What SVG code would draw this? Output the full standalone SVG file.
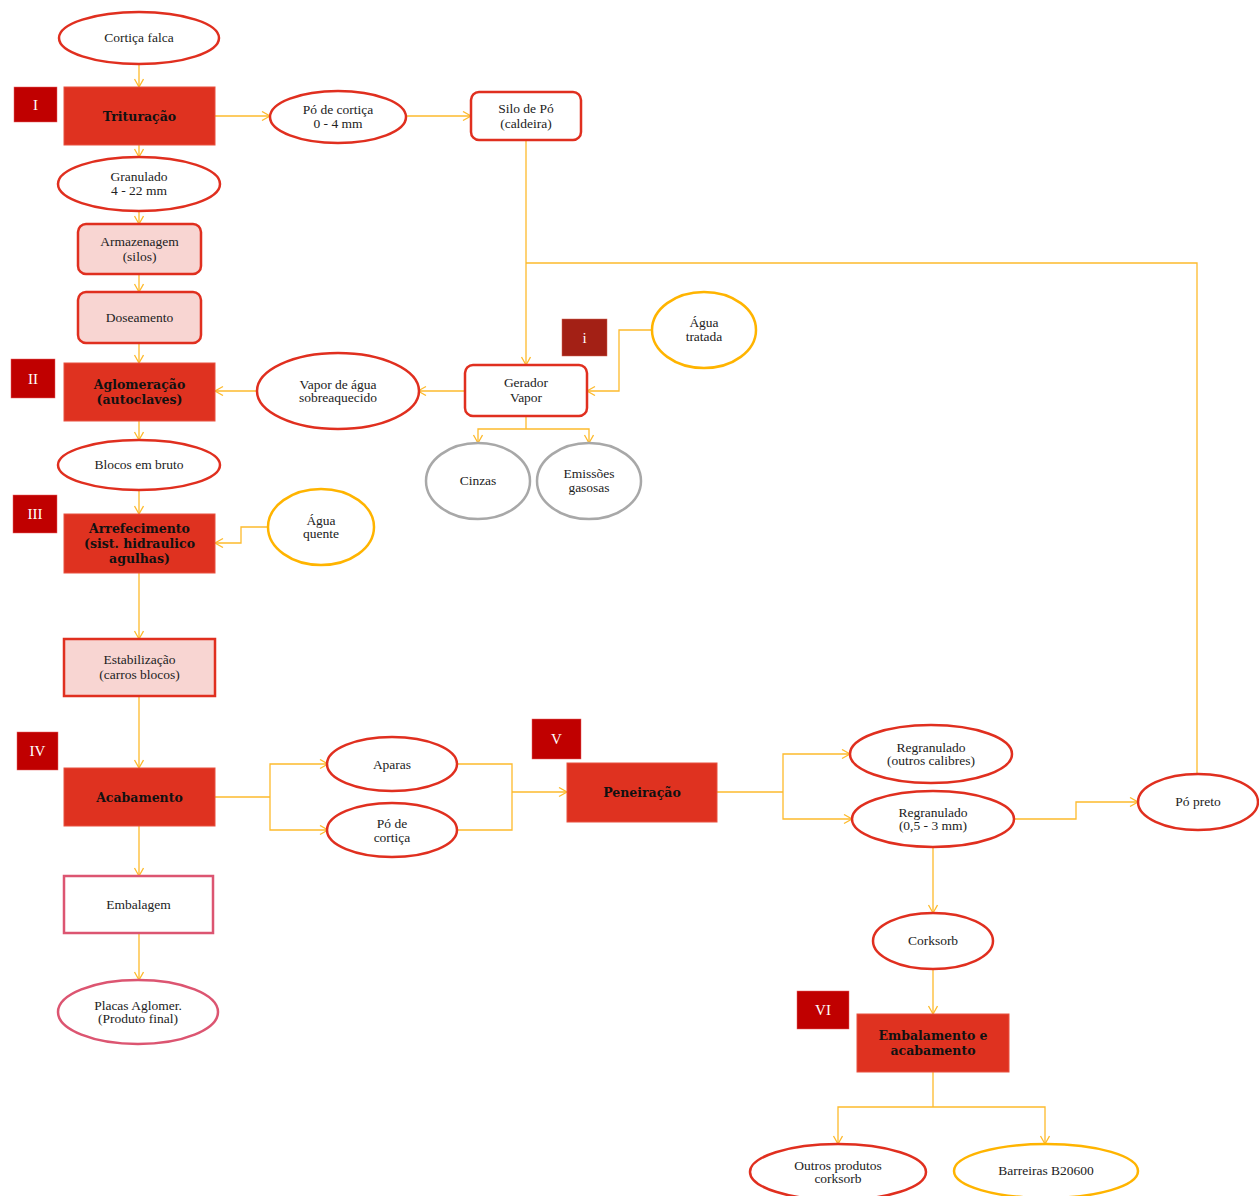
<svg xmlns="http://www.w3.org/2000/svg" width="1259" height="1196" viewBox="0 0 1259 1196">
<defs>
<marker id="arr" markerUnits="userSpaceOnUse" markerWidth="12" markerHeight="12" refX="9" refY="5" orient="auto">
<path d="M1,0.5 L9,5 L1,9.5" fill="none" stroke="#FDBA2C" stroke-width="1.3"/>
</marker>
<style>
text{font-family:"Liberation Serif","DejaVu Serif",serif;font-size:13.5px;fill:#222;text-anchor:middle}
.b{font-family:"DejaVu Serif","Liberation Serif",serif;font-weight:bold;font-size:12.5px;fill:#111}
.w{fill:#fff;font-size:15px}
.proc{fill:#DF3220;stroke:#E8503E;stroke-width:1}
.lab{fill:#C00000;stroke:#E86060;stroke-width:0.5}
.ell{fill:#fff;stroke:#E02F1F;stroke-width:2.5}
.ellY{fill:#fff;stroke:#FFB400;stroke-width:2.5}
.ellG{fill:#fff;stroke:#A8A8A8;stroke-width:2.5}
.ellP{fill:#fff;stroke:#DC5571;stroke-width:2.5}
.rr{fill:#fff;stroke:#E02F1F;stroke-width:2.5}
.pink{fill:#F8D5D2;stroke:#E02F1F;stroke-width:2.5}
.c{fill:none;stroke:#FDBA2C;stroke-width:1.3}
.ca{fill:none;stroke:#FDBA2C;stroke-width:1.3;marker-end:url(#arr)}
</style>
</defs>
<rect width="1259" height="1196" fill="#fff"/>

<g id="connectors">
<path class="ca" d="M139,64 V87"/>
<path class="ca" d="M215,116 H270"/>
<path class="ca" d="M405,116 H471"/>
<path class="ca" d="M139,145 V157"/>
<path class="ca" d="M139,211 V224"/>
<path class="ca" d="M139,274 V292"/>
<path class="ca" d="M139,343 V363"/>
<path class="ca" d="M526,140 V365"/>
<path class="c" d="M526,263 H1197 V775"/>
<path class="ca" d="M652,330 H619 V391 H587"/>
<path class="ca" d="M465,391 H418"/>
<path class="ca" d="M257,391 H215"/>
<path class="c" d="M526,416 V429"/>
<path class="ca" d="M526,429 H478 V443"/>
<path class="ca" d="M526,429 H589 V443"/>
<path class="ca" d="M139,421 V440"/>
<path class="ca" d="M139,490 V514"/>
<path class="ca" d="M268,527 H241 V543 H215"/>
<path class="ca" d="M139,573 V639"/>
<path class="ca" d="M139,696 V768"/>
<path class="c" d="M215,797 H270"/>
<path class="ca" d="M270,797 V764 H328"/>
<path class="ca" d="M270,797 V830 H328"/>
<path class="c" d="M457,764 H512 V830 H457"/>
<path class="ca" d="M512,792 H567"/>
<path class="c" d="M717,792 H783"/>
<path class="ca" d="M783,792 V754 H850"/>
<path class="ca" d="M783,792 V819 H852"/>
<path class="ca" d="M1015,819 H1076 V802 H1138"/>
<path class="ca" d="M933,847 V913"/>
<path class="ca" d="M933,969 V1014"/>
<path class="c" d="M933,1072 V1107"/>
<path class="ca" d="M933,1107 H838 V1144"/>
<path class="ca" d="M933,1107 H1045 V1144"/>
<path class="ca" d="M139,826 V876"/>
<path class="ca" d="M139,933 V980"/>
</g>

<g id="cortica-falca"><ellipse class="ell" cx="139" cy="38" rx="80" ry="26"/><text x="139" y="42">Cortiça falca</text></g>
<g id="label-I"><rect class="lab" x="14" y="87" width="43" height="35"/><text class="w" x="35.5" y="110">I</text></g>
<g id="trituracao"><rect class="proc" x="64" y="87" width="151" height="58"/><text class="b" x="139.5" y="121">Trituração</text></g>
<g id="po-cortica-1"><ellipse class="ell" cx="338" cy="117" rx="68" ry="26"/><text x="338" y="114">Pó de cortiça</text><text x="338" y="128">0 - 4 mm</text></g>
<g id="silo-po"><rect class="rr" x="471" y="92" width="110" height="48" rx="8"/><text x="526" y="113">Silo de Pó</text><text x="526" y="128">(caldeira)</text></g>
<g id="granulado"><ellipse class="ell" cx="139" cy="184" rx="81" ry="27"/><text x="139" y="181">Granulado</text><text x="139" y="195">4 - 22 mm</text></g>
<g id="armazenagem"><rect class="pink" x="78" y="224" width="123" height="50" rx="8"/><text x="139.5" y="246">Armazenagem</text><text x="139.5" y="261">(silos)</text></g>
<g id="doseamento"><rect class="pink" x="78" y="292" width="123" height="51" rx="8"/><text x="139.5" y="322">Doseamento</text></g>
<g id="label-II"><rect class="lab" x="11" y="359" width="44" height="39"/><text class="w" x="33" y="384">II</text></g>
<g id="aglomeracao"><rect class="proc" x="64" y="363" width="151" height="58"/><text class="b" x="139.5" y="389">Aglomeração</text><text class="b" x="139.5" y="404">(autoclaves)</text></g>
<g id="vapor-agua"><ellipse class="ell" cx="338" cy="391" rx="81" ry="38"/><text x="338" y="389">Vapor de água</text><text x="338" y="402">sobreaquecido</text></g>
<g id="label-i"><rect x="562" y="319" width="45" height="37" fill="#A32015" stroke="#D06050" stroke-width="0.5"/><text class="w" x="584.5" y="343">i</text></g>
<g id="agua-tratada"><ellipse class="ellY" cx="704" cy="330" rx="52" ry="38"/><text x="704" y="327">Água</text><text x="704" y="341">tratada</text></g>
<g id="gerador-vapor"><rect class="rr" x="465" y="365" width="122" height="51" rx="8"/><text x="526" y="387">Gerador</text><text x="526" y="402">Vapor</text></g>
<g id="cinzas"><ellipse class="ellG" cx="478" cy="481" rx="52" ry="38"/><text x="478" y="485">Cinzas</text></g>
<g id="emissoes"><ellipse class="ellG" cx="589" cy="481" rx="52" ry="38"/><text x="589" y="478">Emissões</text><text x="589" y="492">gasosas</text></g>
<g id="blocos-bruto"><ellipse class="ell" cx="139" cy="465" rx="81" ry="25"/><text x="139" y="469">Blocos em bruto</text></g>
<g id="label-III"><rect class="lab" x="13" y="495" width="44" height="38"/><text class="w" x="35" y="519">III</text></g>
<g id="arrefecimento"><rect class="proc" x="64" y="514" width="151" height="59"/><text class="b" x="139.5" y="533">Arrefecimento</text><text class="b" x="139.5" y="548">(sist. hidraulico</text><text class="b" x="139.5" y="563">agulhas)</text></g>
<g id="agua-quente"><ellipse class="ellY" cx="321" cy="527" rx="53" ry="38"/><text x="321" y="525">Água</text><text x="321" y="538">quente</text></g>
<g id="estabilizacao"><rect class="pink" x="64" y="639" width="151" height="57"/><text x="139.5" y="664">Estabilização</text><text x="139.5" y="679">(carros blocos)</text></g>
<g id="label-IV"><rect class="lab" x="17" y="732" width="41" height="38"/><text class="w" x="37.5" y="756">IV</text></g>
<g id="acabamento"><rect class="proc" x="64" y="768" width="151" height="58"/><text class="b" x="139.5" y="802">Acabamento</text></g>
<g id="aparas"><ellipse class="ell" cx="392" cy="764" rx="65" ry="27"/><text x="392" y="769">Aparas</text></g>
<g id="po-cortica-2"><ellipse class="ell" cx="392" cy="830" rx="65" ry="27"/><text x="392" y="828">Pó de</text><text x="392" y="842">cortiça</text></g>
<g id="embalagem"><rect x="64" y="876" width="149" height="57" fill="#fff" stroke="#DC5571" stroke-width="2.5"/><text x="138.5" y="909">Embalagem</text></g>
<g id="placas"><ellipse class="ellP" cx="138" cy="1012" rx="80" ry="32"/><text x="138" y="1010">Placas Aglomer.</text><text x="138" y="1023">(Produto  final)</text></g>
<g id="label-V"><rect class="lab" x="532" y="719" width="49" height="40"/><text class="w" x="556.5" y="744">V</text></g>
<g id="peneiracao"><rect class="proc" x="567" y="763" width="150" height="59"/><text class="b" x="642" y="797">Peneiração</text></g>
<g id="regranulado-outros"><ellipse class="ell" cx="931" cy="754" rx="81" ry="29"/><text x="931" y="752">Regranulado</text><text x="931" y="765">(outros calibres)</text></g>
<g id="regranulado-05"><ellipse class="ell" cx="933" cy="819" rx="81" ry="28"/><text x="933" y="817">Regranulado</text><text x="933" y="830">(0,5 - 3 mm)</text></g>
<g id="po-preto"><ellipse class="ell" cx="1198" cy="802" rx="60" ry="28"/><text x="1198" y="806">Pó preto</text></g>
<g id="corksorb"><ellipse class="ell" cx="933" cy="941" rx="60" ry="28"/><text x="933" y="945">Corksorb</text></g>
<g id="label-VI"><rect class="lab" x="797" y="991" width="52" height="38"/><text class="w" x="823" y="1015">VI</text></g>
<g id="embalamento"><rect class="proc" x="857" y="1014" width="152" height="58"/><text class="b" x="933" y="1040">Embalamento  e</text><text class="b" x="933" y="1055">acabamento</text></g>
<g id="outros-produtos"><ellipse class="ell" cx="838" cy="1172" rx="88" ry="28"/><text x="838" y="1170">Outros produtos</text><text x="838" y="1183">corksorb</text></g>
<g id="barreiras"><ellipse class="ellY" cx="1046" cy="1171" rx="92" ry="27"/><text x="1046" y="1175">Barreiras B20600</text></g>
</svg>
